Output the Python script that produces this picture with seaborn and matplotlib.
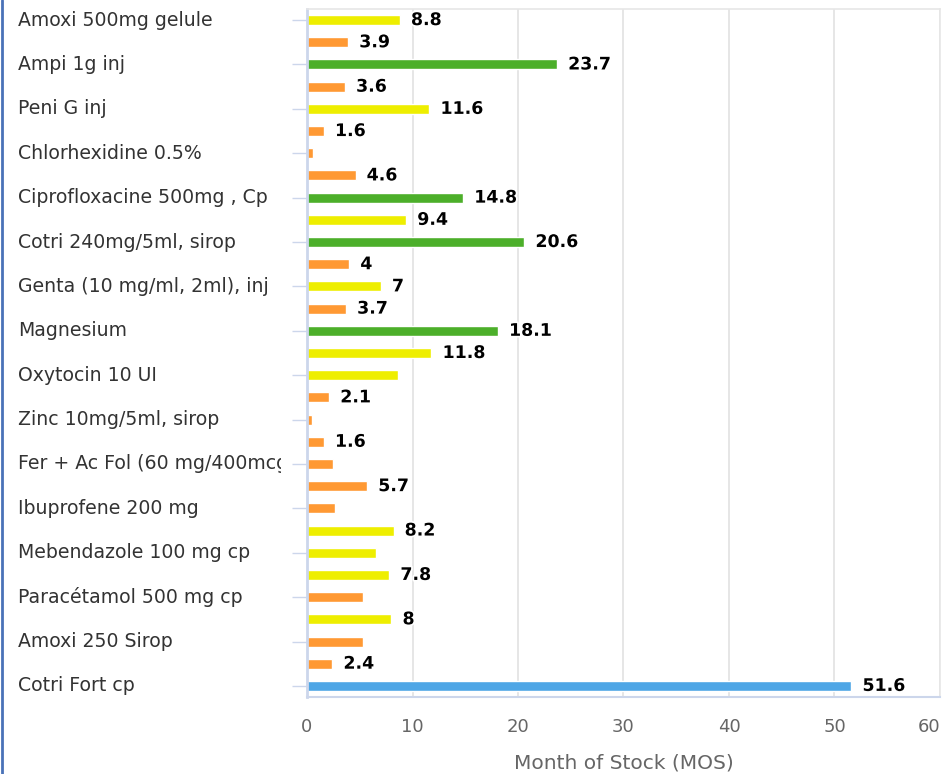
import numpy as np
import pandas as pd
import matplotlib
matplotlib.use("Agg")
import matplotlib.pyplot as plt
import matplotlib.patheffects as pe
from matplotlib.lines import Line2D
from matplotlib.transforms import Bbox, TransformedBbox, blended_transform_factory
import seaborn as sns

# 31 bars, only every other one has a visible category name
products = [
    "Amoxi 500mg gelule", "", "Ampi 1g inj", "", "Peni G inj", "",
    "Chlorhexidine 0.5%", "", "Ciprofloxacine 500mg , Cp", "",
    "Cotri 240mg/5ml, sirop", "", "Genta (10 mg/ml, 2ml), inj", "",
    "Magnesium", "", "Oxytocin 10 UI", "", "Zinc 10mg/5ml, sirop", "",
    "Fer + Ac Fol (60 mg/400mcg)", "", "Ibuprofene 200 mg", "",
    "Mebendazole 100 mg cp", "", "Paracétamol 500 mg cp", "",
    "Amoxi 250 Sirop", "", "Cotri Fort cp",
]
mos = [8.8, 3.9, 23.7, 3.6, 11.6, 1.6, 0.6, 4.6, 14.8, 9.4, 20.6, 4, 7, 3.7,
       18.1, 11.8, 8.6, 2.1, 0.45, 1.6, 2.5, 5.7, 2.65, 8.2, 6.5, 7.8, 5.3,
       8, 5.3, 2.4, 51.6]
# which data labels are drawn (the others were hidden in the original)
show_label = [1, 1, 1, 1, 1, 1, 0, 1, 1, 1, 1, 1, 1, 1, 1, 1, 0, 1, 0, 1,
              0, 1, 0, 1, 0, 1, 0, 1, 0, 1, 1]


def stock_color(v):
    if v < 6:
        return "#ff9933"
    if v < 12:
        return "#eeee00"
    if v < 24:
        return "#4caf2a"
    return "#4ea6e6"


sns.set_style("white")
plt.rcParams["font.family"] = ["DejaVu Sans"]

df = pd.DataFrame({"slot": [f"{i:02d}" for i in range(len(mos))], "mos": mos})
palette = {s: stock_color(v) for s, v in zip(df.slot, df.mos)}

fig = plt.figure(figsize=(9.43, 7.74), dpi=100)
ax = fig.add_axes([307 / 943, 1 - 697 / 774, 633 / 943, 688 / 774])

sns.barplot(data=df, x="mos", y="slot", hue="slot", palette=palette,
            order=list(df.slot), width=0.45, saturation=1, legend=False, ax=ax)

ax.set_xlim(0, 60)
ax.set_ylim(len(mos) - 0.5, -0.5)
ax.set_xticks(np.arange(0, 61, 10))
ax.grid(axis="x", color="#e6e6e6", lw=1.4)
ax.set_axisbelow(True)

for side in ["top", "right"]:
    ax.spines[side].set_color("#e6e6e6")
    ax.spines[side].set_linewidth(1.2)
ax.spines["left"].set_color("#ccd6eb")
ax.spines["left"].set_linewidth(2)
ax.spines["bottom"].set_color("#ccd6eb")
ax.spines["bottom"].set_linewidth(1.5)

named = [i for i, p in enumerate(products) if p]
ax.set_yticks(named)
ax.set_yticklabels([])
ax.set_ylabel("")
ax.tick_params(axis="y", length=11, width=1, color="#ccd6eb", left=True)
ax.tick_params(axis="x", length=0, pad=15, labelsize=13, labelcolor="#666666")
ax.get_xticklabels()[-1].set_ha("right")
ax.set_xlabel("Month of Stock (MOS)", fontsize=14.5, color="#666666", labelpad=13)

# category names, left aligned and clipped like the original
trans = blended_transform_factory(fig.transFigure, ax.transData)
clip = TransformedBbox(Bbox([[0, 0], [281 / 943, 1]]), fig.transFigure)
for i, name in enumerate(products):
    if not name:
        continue
    t = fig.text(18 / 943, i, name, transform=trans, ha="left", va="center",
                 fontsize=13.6, color="#333333")
    t.set_clip_box(clip)
    t.set_clip_on(True)

for i, (v, s) in enumerate(zip(mos, show_label)):
    if s:
        ax.annotate(f"{v:g}", xy=(v, i), xytext=(8, 0), textcoords="offset points",
                    ha="left", va="center", fontsize=12.5, fontweight="bold",
                    color="black",
                    path_effects=[pe.withStroke(linewidth=2.5, foreground="white")])

fig.add_artist(Line2D([0.002, 0.002], [0, 1], transform=fig.transFigure,
                      color="#4a72b8", lw=2))

fig.savefig("out.png", dpi=100)
